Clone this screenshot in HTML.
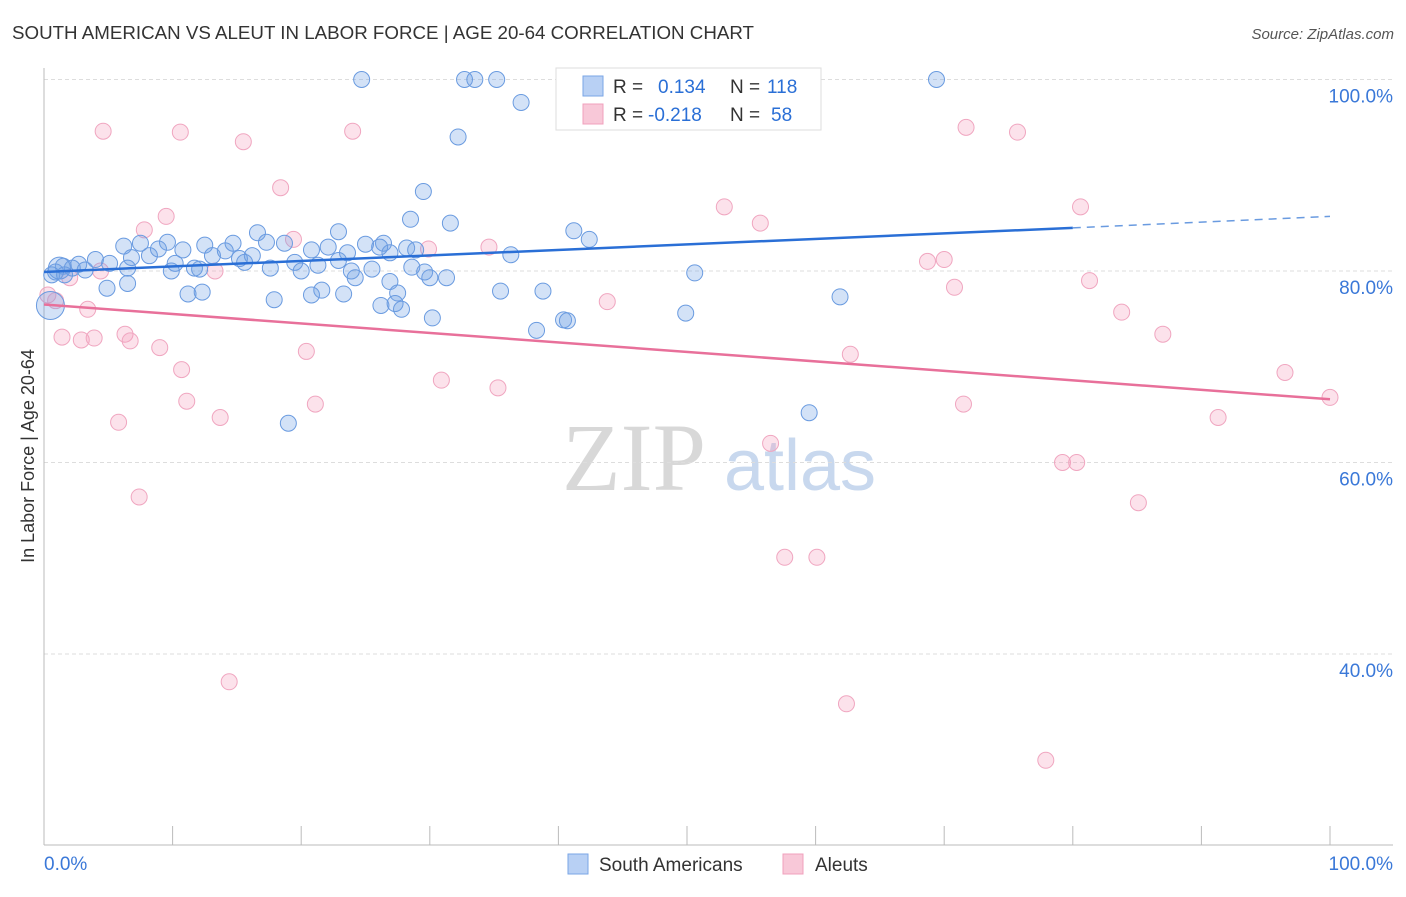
<!DOCTYPE html>
<html><head><meta charset="utf-8"><style>
body{margin:0;background:#fff;font-family:"Liberation Sans",sans-serif}
svg text{font-family:"Liberation Sans",sans-serif}
</style></head><body>
<svg id="chart" width="1406" height="892" xmlns="http://www.w3.org/2000/svg">
<text x="12" y="39" font-size="18" fill="#333" textLength="742" lengthAdjust="spacingAndGlyphs">SOUTH AMERICAN VS ALEUT IN LABOR FORCE | AGE 20-64 CORRELATION CHART</text>
<text x="1394" y="39" font-size="15" fill="#555" font-style="italic" text-anchor="end">Source: ZipAtlas.com</text>
<text x="634" y="490" font-size="96" fill="#d8d8d8" style="font-family:'Liberation Serif',serif" text-anchor="middle">ZIP</text>
<text x="800" y="490" font-size="72" fill="#c8d8ee" text-anchor="middle">atlas</text>
<g id="grid"></g>
<g id="axes"></g>
<g id="pts"></g>
<g id="trend"></g>
<text transform="translate(34,456) rotate(-90)" font-size="18" fill="#333" text-anchor="middle">In Labor Force | Age 20-64</text>
<g>
<rect x="556" y="68" width="265" height="62" fill="#fff" stroke="#ddd"/>
<rect x="583" y="76" width="20" height="20" fill="#b8d0f4" stroke="#7aa6e6"/>
<rect x="583" y="104" width="20" height="20" fill="#f8c8d8" stroke="#f0a0bc"/>
<text x="613" y="93" font-size="19" fill="#333">R = <tspan fill="#2a6fd6" x="658">0.134</tspan><tspan x="730">N = </tspan><tspan fill="#2a6fd6" x="767">118</tspan></text>
<text x="613" y="121" font-size="19" fill="#333">R = <tspan fill="#2a6fd6" x="648">-0.218</tspan><tspan x="730">N = </tspan><tspan fill="#2a6fd6" x="771">58</tspan></text>
</g>
<g>
<rect x="568" y="854" width="20" height="20" fill="#b8d0f4" stroke="#7aa6e6"/>
<text x="599" y="871" font-size="19" fill="#333">South Americans</text>
<rect x="783" y="854" width="20" height="20" fill="#f8c8d8" stroke="#f0a0bc"/>
<text x="815" y="871" font-size="19" fill="#333">Aleuts</text>
</g>
</svg>
<script>
const yTicks=[40,60,80,100];
const xTicks=[0,10,20,30,40,50,60,70,80,90,100];
const blueX=[24.7,32.7,33.5,35.2,69.4,37.1,32.2,29.5,28.5,31.6,41.2,42.4,22.9,16.6,9.6,6.2,7.5,12.5,14.7,17.3,18.7,20.8,22.1,23.6,25.0,26.4,28.2,28.9,36.3,1.5,2.7,4.0,5.1,6.8,8.2,10.2,11.7,13.1,15.2,16.2,17.6,19.5,21.3,23.9,25.5,26.9,28.6,9.9,12.1,20.0,0.9,2.2,3.2,6.5,29.6,30.0,31.3,24.2,26.9,6.5,4.9,11.2,12.3,17.9,20.8,21.6,23.3,27.5,35.5,38.8,26.2,27.3,27.8,30.2,40.4,40.7,38.3,50.6,49.9,61.9,59.5,19.0,1.2,0.5,0.6,1.6,8.9,10.8,14.1,15.6,26.1,22.9];
const blueY=[100,100,100,100,100,97.6,94.0,88.3,85.4,85.0,84.2,83.3,84.1,84.0,83.0,82.6,82.9,82.7,82.9,83.0,82.9,82.2,82.5,81.9,82.8,82.9,82.4,82.2,81.7,80.5,80.7,81.2,80.8,81.4,81.6,80.8,80.3,81.6,81.3,81.6,80.3,80.9,80.6,80.0,80.2,81.9,80.4,80.0,80.2,80.0,79.9,80.3,80.1,80.3,79.9,79.3,79.3,79.3,78.9,78.7,78.2,77.6,77.8,77.0,77.5,78.0,77.6,77.7,77.9,77.9,76.4,76.6,76.0,75.1,74.9,74.8,73.8,79.8,75.6,77.3,65.2,64.1,80.3,76.4,79.6,79.6,82.3,82.2,82.1,80.9,82.5,81.1];
const pinkX=[4.6,10.6,15.5,24.0,18.4,71.7,75.7,52.9,55.7,80.6,9.5,7.8,19.4,29.9,34.6,13.3,2.0,4.4,68.7,70.0,70.8,81.3,43.8,3.4,83.8,1.4,2.9,3.9,6.3,6.7,9.0,20.4,87.0,62.7,10.7,30.9,35.3,96.5,100,11.1,21.1,71.5,13.7,5.8,91.3,56.5,79.2,80.3,7.4,85.1,57.6,60.1,14.4,62.4,77.9,0.3,0.9];
const pinkY=[94.6,94.5,93.5,94.6,88.7,95.0,94.5,86.7,85.0,86.7,85.7,84.3,83.3,82.3,82.5,80.0,79.3,80.0,81.0,81.2,78.3,79.0,76.8,76.0,75.7,73.1,72.8,73.0,73.4,72.7,72.0,71.6,73.4,71.3,69.7,68.6,67.8,69.4,66.8,66.4,66.1,66.1,64.7,64.2,64.7,62.0,60.0,60.0,56.4,55.8,50.1,50.1,37.1,34.8,28.9,77.5,76.9];
const blueTrend=[[0,79.9],[80,84.5],[100,85.7]];
const pinkTrend=[[0,76.5],[100,66.6]];
const NS='http://www.w3.org/2000/svg';
const sx=v=>44+v*12.86, sy=v=>79.5+(100-v)*9.575;
function mk(t,a,p){const e=document.createElementNS(NS,t);for(const k in a)e.setAttribute(k,a[k]);p.appendChild(e);return e;}
const grid=document.getElementById('grid'),axes=document.getElementById('axes');
yTicks.forEach(t=>{
 const l=mk('line',{x1:44,x2:1393,y1:sy(t),y2:sy(t),stroke:'#ddd','stroke-dasharray':'4,3'},grid);
 
 
 const tx=mk('text',{x:1393,y:sy(t)+23,'font-size':19,fill:'#3a78d8','text-anchor':'end'},axes);
 tx.textContent=t.toFixed(1)+'%';
 
 
});
mk('line',{x1:44,x2:1393,y1:79.5,y2:79.5,stroke:'#ddd','stroke-dasharray':'4,3'},grid);
const ya=mk('line',{x1:44,x2:44,y1:68,y2:845,stroke:'#bbb'},axes);


const xa=mk('line',{x1:44,x2:1393,y1:845,y2:845,stroke:'#bbb'},axes);


xTicks.forEach(t=>{const l=mk('line',{x1:sx(t),x2:sx(t),y1:826,y2:845,stroke:'#bbb'},axes);
 
 });
[[0,'start','0.0%'],[100,'end','100.0%']].forEach(([v,a,s])=>{const tx=mk('text',{x:v==0?44:1393,y:870,'font-size':19,fill:'#3a78d8','text-anchor':a},axes);tx.textContent=s;
 
 });
const pts=document.getElementById('pts');
pinkX.forEach((x,i)=>{const c=mk('circle',{cx:sx(x),cy:sy(pinkY[i]),r:8,fill:'rgba(244,160,190,0.3)',stroke:'#f0a6c0','stroke-width':1},pts);
 
 });
blueX.forEach((x,i)=>{const c=mk('circle',{cx:sx(x),cy:sy(blueY[i]),r:(i==83?14:(i==82?11:8)),fill:'rgba(110,160,230,0.3)',stroke:'#6a9be0','stroke-width':1},pts);
 
 });
const tr=document.getElementById('trend');
const b1=mk('line',{x1:sx(blueTrend[0][0]),y1:sy(blueTrend[0][1]),x2:sx(blueTrend[1][0]),y2:sy(blueTrend[1][1]),stroke:'#2a6fd6','stroke-width':2.5},tr);


const b2=mk('line',{x1:sx(blueTrend[1][0]),y1:sy(blueTrend[1][1]),x2:sx(blueTrend[2][0]),y2:sy(blueTrend[2][1]),stroke:'#6a9be0','stroke-width':1.5,'stroke-dasharray':'8,6'},tr);


const p1=mk('line',{x1:sx(pinkTrend[0][0]),y1:sy(pinkTrend[0][1]),x2:sx(pinkTrend[1][0]),y2:sy(pinkTrend[1][1]),stroke:'#e8709a','stroke-width':2.5},tr);


</script>
</body></html>
